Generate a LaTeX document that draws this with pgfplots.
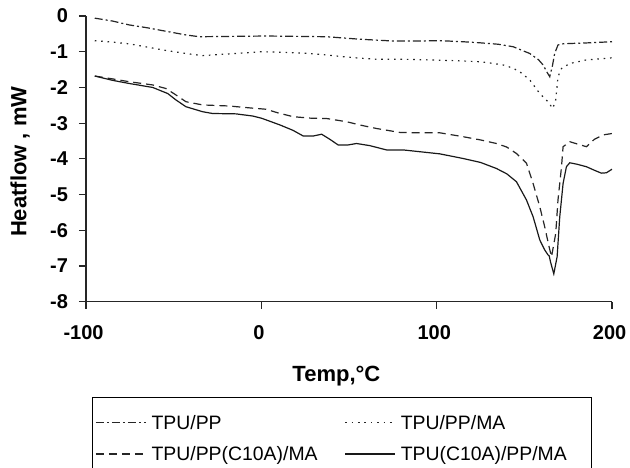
\documentclass[border=0pt]{standalone}
\usepackage{pgfplots}
\pgfplotsset{compat=1.18}
\usepackage{fontspec}
\setmainfont{Liberation Sans}
\begin{document}
\begin{tikzpicture}
\begin{axis}[
 scale only axis, width=263pt, height=142.85pt,
 at={(0,0)}, anchor=south west,
 xmin=-100, xmax=200, ymin=-8, ymax=0,
 axis x line*=bottom, axis y line*=left,
 axis line style={-, black!85, line width=0.6pt},
 tick style={black!85, line width=0.6pt},
 tick align=outside, major tick length=3.5pt,
 xtick={-100,0,100,200}, xticklabels={-100,0,100,200},
 ytick={-8,-7,-6,-5,-4,-3,-2,-1,0}, yticklabels={-8,-7,-6,-5,-4,-3,-2,-1,0},
 ticklabel style={font=\bfseries\fontsize{10}{12}\selectfont},
 xticklabel style={yshift=-5pt, xshift=-1.2pt},
 yticklabel style={xshift=-2pt},
 xlabel={Temp,°C}, ylabel={Heatflow , mW},
 every axis x label/.style={at={(axis description cs:0.476,-0.259)}, anchor=center, font=\bfseries\fontsize{11}{13}\selectfont},
 every axis y label/.style={at={(axis description cs:-0.1255,0.49)}, rotate=90, anchor=center, font=\bfseries\fontsize{11}{13}\selectfont},
 legend columns=2,
 legend cell align=left,
 legend style={at={(axis description cs:0.0114,-0.333)}, anchor=north west, draw=black, font=\fontsize{9.7}{11.6}\selectfont, inner xsep=1.5pt, inner ysep=8pt, column sep=2.5pt, row sep=5.9pt, nodes={inner sep=0pt}},
 legend image code/.code={\draw[#1] (0pt,0pt) -- (25pt,0pt);},
]
\addplot[black!85, line width=0.6pt, dash pattern=on 4pt off 1.5pt on 1pt off 1.5pt] coordinates {
(-95,-0.06) (-85,-0.14) (-75.3,-0.25) (-65,-0.33) (-56.3,-0.41) (-43,-0.53) (-35.4,-0.58) (-15,-0.57) (2.6,-0.56) (20,-0.57) (37.2,-0.58) (56.2,-0.65) (75.2,-0.70) (90,-0.70) (101.8,-0.69) (115,-0.72) (124.6,-0.75) (135,-0.79) (143.6,-0.86) (153.1,-1.05) (158,-1.22) (160.7,-1.37) (163,-1.58) (164.5,-1.70) (166,-1.40) (167.3,-1.05) (169.2,-0.81) (172,-0.78) (175.9,-0.77) (187.3,-0.75) (200,-0.72)};
\addlegendentry{\makebox[94pt][l]{\strut TPU/PP}}
\addplot[black!85, line width=0.6pt, dash pattern=on 0.8pt off 2.4pt] coordinates {
(-95,-0.69) (-85,-0.73) (-75.3,-0.78) (-65,-0.87) (-56.3,-0.95) (-43,-1.05) (-33.5,-1.11) (-25,-1.08) (-14.5,-1.05) (0,-1.00) (15,-1.02) (27.7,-1.05) (37,-1.09) (46.7,-1.14) (56,-1.18) (65.7,-1.21) (80,-1.21) (96.1,-1.23) (110,-1.25) (124.6,-1.28) (131,-1.32) (137.9,-1.37) (143,-1.45) (147.4,-1.56) (153.1,-1.79) (158.8,-2.17) (163.5,-2.40) (166.2,-2.59) (167.9,-2.35) (169.2,-1.70) (171.2,-1.47) (175.9,-1.33) (185.4,-1.23) (200,-1.17)};
\addlegendentry{\makebox[94pt][l]{\strut TPU/PP/MA}}
\addplot[black!85, line width=0.6pt, dash pattern=on 4pt off 2.5pt] coordinates {
(-95,-1.68) (-85,-1.76) (-75.3,-1.84) (-62,-1.93) (-54.4,-2.03) (-48.7,-2.21) (-43,-2.40) (-33.5,-2.49) (-18.3,-2.52) (-5,-2.58) (2.6,-2.61) (10,-2.72) (18.2,-2.82) (28,-2.86) (37.2,-2.87) (48.6,-2.96) (57,-3.06) (65.7,-3.15) (79,-3.26) (90,-3.27) (101.8,-3.27) (115.1,-3.38) (125,-3.47) (134.1,-3.57) (140,-3.67) (145.5,-3.85) (151.2,-4.12) (155,-4.69) (158.8,-5.34) (161.6,-5.90) (164.1,-6.46) (165.5,-6.74) (167.9,-6.09) (169.2,-5.15) (171.2,-4.22) (172.1,-3.66) (175.9,-3.52) (180,-3.58) (185.4,-3.66) (190,-3.45) (194.9,-3.33) (200,-3.29)};
\addlegendentry{\makebox[94pt][l]{\strut TPU/PP(C10A)/MA}}
\addplot[black!90, line width=0.6pt] coordinates {
(-95,-1.68) (-85,-1.80) (-75.3,-1.89) (-62,-2.00) (-53.4,-2.17) (-48.7,-2.35) (-43,-2.54) (-33.5,-2.68) (-27.8,-2.73) (-14.5,-2.74) (-5,-2.80) (0,-2.86) (10.6,-3.05) (18,-3.20) (23.9,-3.36) (29.6,-3.36) (34.4,-3.31) (39,-3.45) (43.8,-3.61) (49.5,-3.61) (54.3,-3.57) (61.9,-3.63) (71.4,-3.75) (80.9,-3.75) (90.4,-3.80) (101.8,-3.86) (115.1,-3.99) (125,-4.10) (134.1,-4.27) (140,-4.42) (145.5,-4.64) (151.2,-5.15) (155,-5.62) (158.8,-6.27) (161.6,-6.55) (163.5,-6.69) (164.2,-6.72) (164.9,-6.88) (166.8,-7.22) (168.7,-6.74) (170.2,-5.62) (172.1,-4.69) (174,-4.22) (175.9,-4.11) (180,-4.15) (185.4,-4.22) (190,-4.32) (193.9,-4.40) (196.8,-4.39) (200,-4.29)};
\addlegendentry{\makebox[94pt][l]{\strut TPU(C10A)/PP/MA}}
\end{axis}
\pgfresetboundingbox
\path[use as bounding box] (-43pt,-82.65pt) rectangle (272pt,150.85pt);
\end{tikzpicture}
\end{document}
